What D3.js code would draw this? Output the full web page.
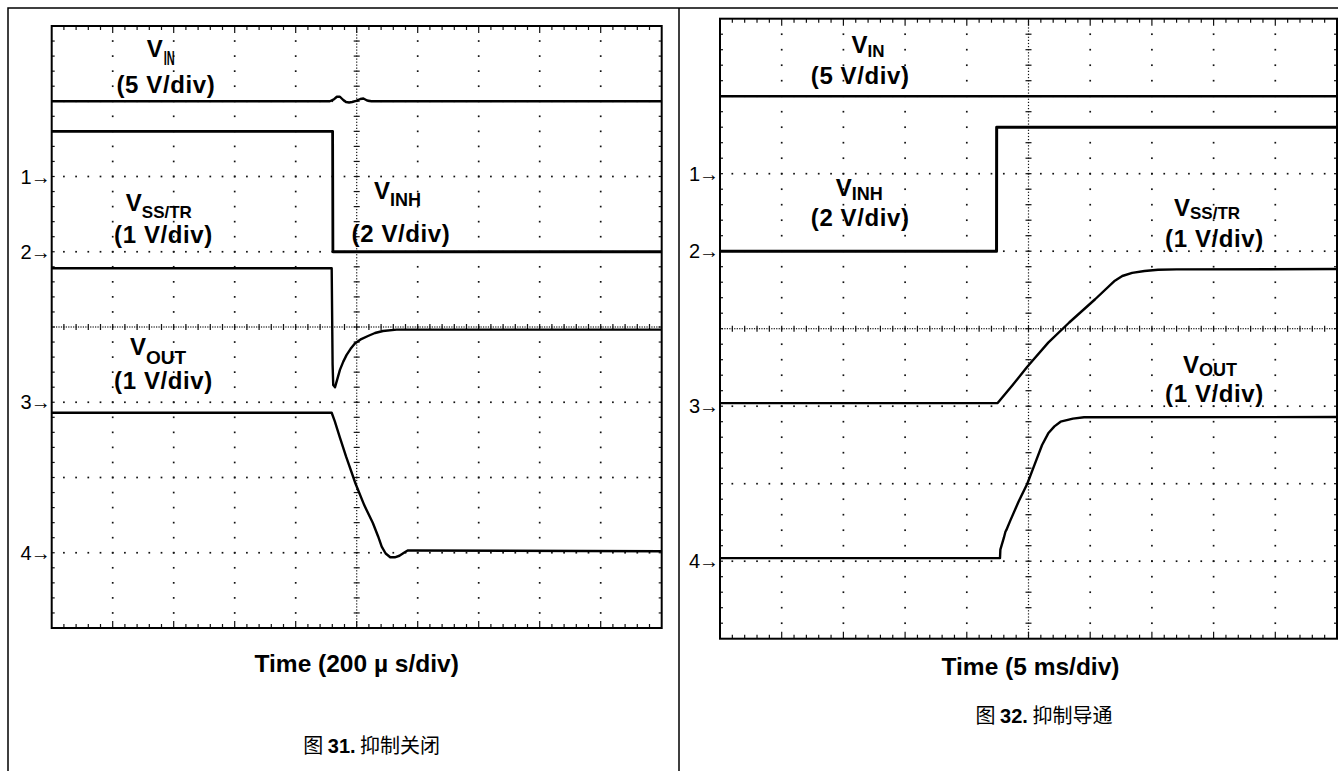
<!DOCTYPE html>
<html>
<head>
<meta charset="utf-8">
<script src="https://cdn.jsdelivr.net/npm/d3@7"></script>
<style>
  html, body { margin: 0; padding: 0; background: #fff; }
  svg { display: block; }
  text { font-family: "Liberation Sans", Arial, Helvetica, sans-serif; fill: #000; }
  .cjk { font-family: "Noto Sans CJK SC", "Liberation Sans", sans-serif; }
</style>
</head>
<body>
<svg id="chart" width="1338" height="771"></svg>
<script>
// Oscilloscope channels: ground-marker position (divisions from screen centre) and volts per division
const markerLabels = ["1", "2", "3", "4"];
const markerLevels = [2, 1, -1, -3];
const voltsPerDiv  = [5, 2, 1, 1];      // VIN, VINH, VSS/TR, VOUT

// Figure 31 - inhibit turn-off, time in µs (200 µs/div), values in volts
const fig31Span = 2000;
const fig31Vin = [[0, 5.0], [912, 5.0], [925, 5.12], [935, 5.3], [945, 5.3], [955, 5.1], [965, 4.95],
  [975, 4.92], [985, 4.95], [998, 5.02], [1012, 5.15], [1022, 5.18], [1034, 5.05], [1048, 5.0], [2000, 5.0]];
const fig31Vinh = [[0, 3.2], [921, 3.2], [922, 0.0], [2000, 0.0]];
const fig31Vss = [[0, 1.78], [918, 1.78], [921, 0.5], [923, 0.23], [929, 0.2], [936, 0.3], [945, 0.43],
  [956, 0.54], [967, 0.63], [980, 0.71], [994, 0.78], [1015, 0.84], [1037, 0.88], [1060, 0.92],
  [1086, 0.947], [1131, 0.965], [2000, 0.965]];
const fig31Vout = [[0, 1.86], [918, 1.86], [928, 1.75], [945, 1.53], [965, 1.28], [996, 0.92],
  [1025, 0.63], [1053, 0.395], [1070, 0.22], [1082, 0.08], [1095, -0.01], [1110, -0.06], [1125, -0.06],
  [1140, -0.04], [1155, 0.0], [1167, 0.03], [1185, 0.03], [2000, 0.02]];

// Figure 32 - inhibit turn-on, time in ms (5 ms/div), values in volts
const fig32Span = 50;
const fig32Vin = [[0, 5.0], [50, 5.0]];
const fig32Vinh = [[0, 0.0], [22.41, 0.0], [22.42, 3.2], [50, 3.2]];
const fig32Vss = [[0, 0.04], [22.5, 0.04], [23.7, 0.27], [24.9, 0.51], [26.6, 0.82], [28.3, 1.08],
  [30.4, 1.38], [32.0, 1.62], [32.6, 1.68], [33.4, 1.72], [34.4, 1.745], [35.5, 1.76], [37, 1.765], [50, 1.77]];
const fig32Vout = [[0, 0.04], [22.69, 0.04], [22.72, 0.15], [23.0, 0.3], [23.13, 0.38], [23.2, 0.4],
  [23.54, 0.53], [24.2, 0.77], [24.9, 1.0], [25.5, 1.25], [26.1, 1.5], [26.6, 1.65], [27.1, 1.74],
  [27.6, 1.8], [28.6, 1.84], [29.5, 1.857], [50, 1.86]];

// Text
const fig31TimeLabel = "Time (200 µ s/div)";
const fig32TimeLabel = "Time (5 ms/div)";
const fig31Caption = ["图 ", "31.", " 抑制关闭"];
const fig32Caption = ["图 ", "32.", " 抑制导通"];

const svg = d3.select("#chart");
svg.append("rect").attr("width", 1338).attr("height", 771).attr("fill", "#fff");

// page frame around the two figures
svg.append("path")
  .attr("d", "M8,771V8H1338M679,8V771")
  .attr("fill", "none").attr("stroke", "#000").attr("stroke-width", 1.5);

const panels = [
  { box: [51.7, 26, 661.7, 628], span: fig31Span,
    traces: [fig31Vin, fig31Vinh, fig31Vss, fig31Vout], widths: [2.4, 2.8, 2.4, 2.4],
    time: { text: fig31TimeLabel, x: 356.7, y: 672 },
    caption: { parts: fig31Caption, x: 371.7, y: 753 },
    labels: [
      { kind: "v", x: 146.7, y: 57, sub: "IN", condensed: true },
      { kind: "div", x: 165.9, y: 93, text: "(5 V/div)" },
      { kind: "v", x: 374, y: 199, sub: "INH", subSize: 18, subDy: 7 },
      { kind: "div", x: 401, y: 242, text: "(2 V/div)" },
      { kind: "v", x: 125.8, y: 211, sub: "SS/TR", subSize: 17, subDy: 7 },
      { kind: "div", x: 163.5, y: 243, text: "(1 V/div)" },
      { kind: "v", x: 130, y: 355, sub: "OUT", subSize: 19, subDy: 9 },
      { kind: "div", x: 163.5, y: 389, text: "(1 V/div)" }
    ] },
  { box: [720, 18.7, 1337, 638.7], span: fig32Span,
    traces: [fig32Vin, fig32Vinh, fig32Vss, fig32Vout], widths: [2.6, 3.0, 2.4, 2.4],
    time: { text: fig32TimeLabel, x: 1030.5, y: 675 },
    caption: { parts: fig32Caption, x: 1044, y: 723 },
    labels: [
      { kind: "v", x: 851.4, y: 53, sub: "IN", subSize: 17, subDy: 4 },
      { kind: "div", x: 860.2, y: 84, text: "(5 V/div)" },
      { kind: "v", x: 835.8, y: 196, sub: "INH", subSize: 18, subDy: 4 },
      { kind: "div", x: 860.2, y: 226, text: "(2 V/div)" },
      { kind: "v", x: 1174, y: 216, sub: "SS/TR", subSize: 17, subDy: 3 },
      { kind: "div", x: 1214.5, y: 247, text: "(1 V/div)" },
      { kind: "v", x: 1183, y: 373, sub: "OUT", subSize: 18, subDy: 3 },
      { kind: "div", x: 1214.5, y: 402, text: "(1 V/div)" }
    ] }
];

function drawGraticule(g, gx, gy) {
  const [x0, x1] = gx.range();
  const [y1, y0] = gy.range();
  const dots = [];
  // dotted major divisions, one dot per minor step
  for (let i = 1; i < 10; i++) if (i !== 5)
    for (let k = 1; k < 40; k++) dots.push([gx(i), gy(-4 + k / 5), 1.7]);
  for (let j = -3; j <= 3; j++) if (j !== 0)
    for (let k = 1; k < 50; k++) dots.push([gx(k / 5), gy(j), 1.7]);
  // finely dotted centre axes
  for (let k = 1; k < 200; k++) dots.push([gx(5), gy(-4 + k / 25), 1.2]);
  for (let k = 1; k < 250; k++) dots.push([gx(k / 25), gy(0), 1.2]);
  g.append("g").selectAll("rect").data(dots).join("rect")
    .attr("x", d => d[0] - d[2] / 2).attr("y", d => d[1] - d[2] / 2)
    .attr("width", d => d[2]).attr("height", d => d[2]).attr("fill", "#111");

  const ticks = [];
  for (let k = 1; k < 50; k++) {
    const x = gx(k / 5), major = k % 5 === 0;
    ticks.push([x, y0, x, y0 + (major ? 7 : 4)]);
    ticks.push([x, y1, x, y1 - (major ? 7 : 4)]);
    ticks.push([x, gy(0) - 3, x, gy(0) + 3]);
  }
  for (let k = 1; k < 40; k++) {
    const y = gy(-4 + k / 5);
    ticks.push([x0, y, x0 + 3, y]);
    ticks.push([x1, y, x1 - 3, y]);
    ticks.push([gx(5) - 3, y, gx(5) + 3, y]);
  }
  g.append("g").selectAll("line").data(ticks).join("line")
    .attr("x1", d => d[0]).attr("y1", d => d[1]).attr("x2", d => d[2]).attr("y2", d => d[3])
    .attr("stroke", "#111").attr("stroke-width", 1.2);

  g.append("rect").attr("x", x0).attr("y", y0).attr("width", x1 - x0).attr("height", y1 - y0)
    .attr("fill", "none").attr("stroke", "#000").attr("stroke-width", 2);
}

function drawLabel(g, lab) {
  if (lab.kind === "div") {
    g.append("text").attr("x", lab.x).attr("y", lab.y).attr("text-anchor", "middle")
      .attr("font-weight", "bold").attr("font-size", 24).attr("letter-spacing", 0.6).text(lab.text);
    return;
  }
  const t = g.append("text").attr("x", lab.x).attr("y", lab.y)
    .attr("font-weight", "bold").attr("font-size", 24);
  t.append("tspan").text("V");
  if (lab.condensed) {
    // narrow subscript set in a compressed face
    g.append("text").attr("transform", `translate(${lab.x + 17},${lab.y + 8}) scale(0.55,1)`)
      .attr("font-weight", "bold").attr("font-size", 20).text(lab.sub);
  } else {
    t.append("tspan").attr("dy", lab.subDy).attr("font-size", lab.subSize).text(lab.sub);
  }
}

panels.forEach((p, pi) => {
  const [bx0, by0, bx1, by1] = p.box;
  const gx = d3.scaleLinear().domain([0, 10]).range([bx0, bx1]);
  const gy = d3.scaleLinear().domain([-4, 4]).range([by1, by0]);
  const x = d3.scaleLinear().domain([0, p.span]).range([bx0, bx1]);
  const g = svg.append("g");

  drawGraticule(g, gx, gy);

  // channel ground markers
  markerLabels.forEach((m, i) => {
    const t = g.append("text").attr("x", bx0 - 1).attr("y", gy(markerLevels[i]) + 7)
      .attr("text-anchor", "end").attr("font-size", 20);
    t.append("tspan").text(m);
    t.append("tspan").attr("font-size", 20).attr("font-weight", "bold").attr("dx", -1).text("→");
  });

  // traces
  const clipId = "clip" + pi;
  g.append("clipPath").attr("id", clipId).append("rect")
    .attr("x", bx0).attr("y", by0).attr("width", bx1 - bx0).attr("height", by1 - by0);
  p.traces.forEach((tr, ci) => {
    const line = d3.line()
      .x(d => x(d[0]))
      .y(d => gy(markerLevels[ci] + d[1] / voltsPerDiv[ci]));
    g.append("path").datum(tr).attr("d", line).attr("clip-path", `url(#${clipId})`)
      .attr("fill", "none").attr("stroke", "#000").attr("stroke-width", p.widths[ci])
      .attr("stroke-linejoin", "round");
  });

  p.labels.forEach(lab => drawLabel(g, lab));

  g.append("text").attr("x", p.time.x).attr("y", p.time.y).attr("text-anchor", "middle")
    .attr("font-weight", "bold").attr("font-size", 24.5).text(p.time.text);

  const cap = g.append("text").attr("class", "cjk").attr("x", p.caption.x).attr("y", p.caption.y)
    .attr("text-anchor", "middle").attr("font-size", 20);
  p.caption.parts.forEach((s, i) => {
    const ts = cap.append("tspan").text(s);
    if (i === 1) ts.attr("font-weight", "bold").style("font-family", "'Liberation Sans', Arial, sans-serif");
  });
});
</script>
</body>
</html>
